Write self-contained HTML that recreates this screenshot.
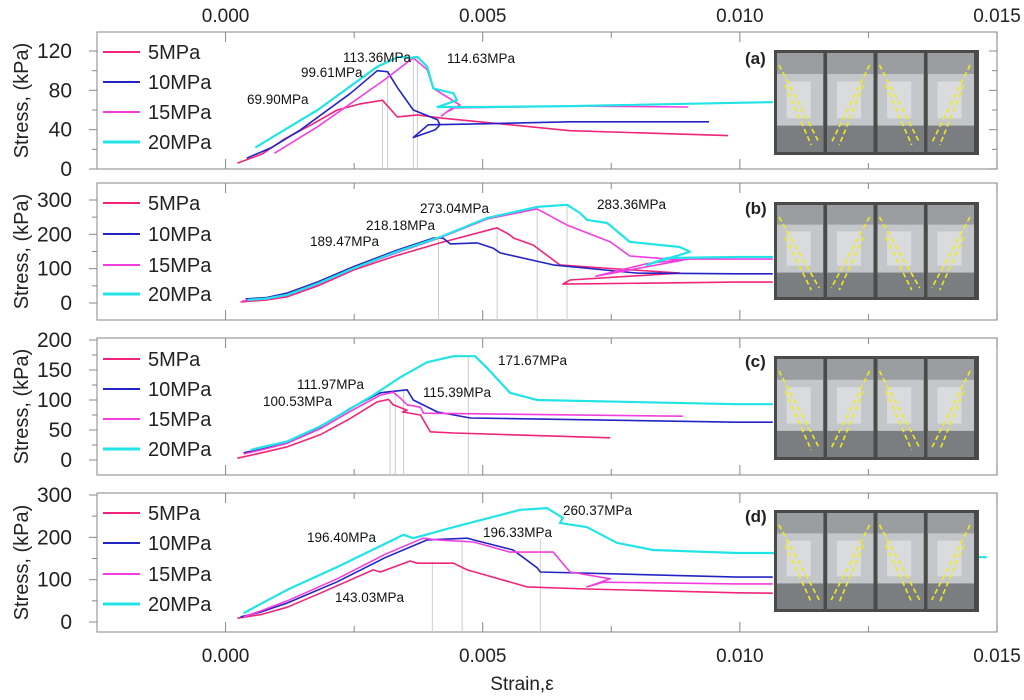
<!DOCTYPE html>
<html><head><meta charset="utf-8"><style>
body{margin:0;background:#fff;}
svg{display:block;font-family:"Liberation Sans",sans-serif;}
</style></head><body>
<svg id="chart" width="1024" height="700" viewBox="0 0 1024 700" xmlns="http://www.w3.org/2000/svg"></svg>
<script>
// strain values in units of 0.001
const xTicks=[0,0.005,0.010,0.015];
const xTickLabels=["0.000","0.005","0.010","0.015"];
const seriesNames=["5MPa","10MPa","15MPa","20MPa"];
const panelLetters=["a","b","c","d"];
const yTicksA=[0,40,80,120], yTicksB=[0,100,200,300], yTicksC=[0,50,100,150,200], yTicksD=[0,100,200,300];
const a5=[[0.23,6],[0.7,15],[1.13,30],[1.7,46],[2.17,60],[2.6,66],[3.05,70],[3.34,53],[3.73,55],[4.17,52],[6.7,39],[9.77,34]];
const a10=[[0.41,11],[0.9,22],[1.46,40],[2.43,77],[2.95,100],[3.15,99],[3.34,83],[3.65,60],[4.12,50],[4.17,45],[4.08,40],[3.65,32],[3.94,45],[5.0,46],[6.7,48],[9.4,48]];
const a15=[[0.95,16],[1.79,43],[3.07,90],[3.65,113],[3.92,101],[4.04,82],[4.56,65],[4.3,58],[4.2,54],[4.4,62],[6.7,64],[9.0,63]];
const a20=[[0.58,22],[1.79,60],[2.95,104],[3.36,114],[3.59,113],[3.73,114],[3.92,104],[4.04,82],[4.43,77],[4.5,70],[4.12,63],[5.0,63],[6.7,64],[10.64,68]];
const b5=[[0.29,3],[0.8,9],[1.2,18],[1.8,50],[2.49,96],[3.3,137],[4.17,175],[5.28,219],[5.53,198],[5.6,189],[5.98,169],[6.5,111],[7.34,102],[8.83,87],[6.7,67],[6.56,55],[9.94,61],[10.64,61]];
const b10=[[0.39,12],[0.8,16],[1.2,29],[1.8,62],[2.49,106],[3.3,152],[4.04,189],[4.23,189],[4.37,172],[4.89,175],[5.2,160],[5.34,146],[6.37,111],[8.0,87],[9.94,85],[10.64,85]];
const b15=[[0.33,6],[0.8,12],[1.2,22],[1.8,55],[2.49,100],[3.3,145],[4.17,190],[5.09,245],[6.06,274],[6.64,227],[7.48,178],[7.86,137],[8.9,125],[7.2,78],[8.2,115],[9.0,128],[10.64,128]];
const b20=[[0.43,9],[0.8,13],[1.2,24],[1.8,57],[2.49,101],[3.3,148],[4.17,192],[5.09,248],[6.06,280],[6.64,286],[6.89,262],[7.03,242],[7.42,233],[7.86,178],[8.83,163],[9.03,149],[8.19,111],[8.58,131],[9.94,134],[10.64,134]];
const c5=[[0.23,3],[0.7,12],[1.2,22],[1.84,42],[2.4,68],[2.95,97],[3.17,101],[3.26,92],[3.53,83],[3.44,80],[3.79,75],[3.98,47],[4.43,45],[7.48,37]];
const c10=[[0.35,12],[0.8,20],[1.2,30],[1.84,55],[2.4,85],[3.01,112],[3.53,117],[3.65,100],[4.12,80],[4.76,70],[9.94,63],[10.64,63]];
const c15=[[0.35,10],[0.8,19],[1.2,28],[1.84,52],[2.4,80],[3.01,108],[3.26,113],[3.4,103],[3.53,92],[3.79,88],[3.85,78],[8.89,73]];
const c20=[[0.49,17],[1.2,31],[1.84,56],[2.4,84],[2.87,108],[3.4,138],[3.92,163],[4.43,173],[4.85,173],[5.09,153],[5.53,112],[6.06,100],[9.94,93],[10.64,93]];
const d5=[[0.23,9],[0.7,18],[1.2,35],[1.84,68],[2.87,123],[3.01,118],[3.59,144],[3.73,139],[4.43,139],[4.7,123],[5.4,99],[5.86,83],[7.03,78],[9.94,69],[10.64,68]];
const d10=[[0.29,12],[0.7,24],[1.2,45],[2.17,95],[3.1,152],[3.92,194],[4.7,198],[4.82,194],[5.59,170],[6.06,128],[6.12,118],[9.94,106],[10.64,106]];
const d15=[[0.35,12],[0.7,27],[1.2,50],[2.17,102],[3.1,160],[3.84,198],[4.12,194],[4.82,189],[5.53,165],[6.37,165],[6.7,118],[7.48,102],[7.03,83],[7.34,94],[9.94,90],[10.64,90]];
const d20=[[0.35,21],[1.2,76],[2.17,130],[3.46,206],[3.65,198],[4.43,224],[5.73,265],[6.25,269],[6.37,260],[6.56,246],[6.5,234],[7.03,224],[7.61,187],[8.31,170],[9.94,163],[10.64,163],[14.8,153]];
const peaksA=[[3.05,70],[3.15,99],[3.65,113],[3.73,114]];
const peaksB=[[4.14,189],[5.28,218],[6.06,273],[6.64,283]];
const peaksC=[[3.2,100],[3.3,112],[3.46,115],[4.72,172]];
const peaksD=[[4.02,143],[4.6,196],[6.12,196]];
const labelsA=["113.36MPa","99.61MPa","69.90MPa","114.63MPa"];
const labelsB=["273.04MPa","218.18MPa","189.47MPa","283.36MPa"];
const labelsC=["171.67MPa","111.97MPa","100.53MPa","115.39MPa"];
const labelsD=["260.37MPa","196.40MPa","196.33MPa","143.03MPa"];

const colors=["#f0257a","#2424c4","#f23ee0","#22e4e6"];
const widths=[1.6,1.6,1.6,2.2];
const svg=document.getElementById('chart');
const NS="http://www.w3.org/2000/svg";
function el(t,a,p){const e=document.createElementNS(NS,t);for(const k in a)e.setAttribute(k,a[k]);(p||svg).appendChild(e);return e;}
const X0=97,X1=997,XMIN=-2.5,XMAX=15;
function sx(v){return X0+(v-XMIN)/(XMAX-XMIN)*(X1-X0);}
const panels=[
 {top:32,bot:169,y0:169,y1:51,v1:120,ticks:yTicksA,minor:20,series:[a5,a10,a15,a20],peaks:peaksA,labels:labelsA,
  lab:[[343,57],[301,72],[247,99],[447,58]],leg:[52,82,112,142],photo:[774,50,979,155],lp:[745,64]},
 {top:183,bot:320,y0:303,y1:200,v1:300,ticks:yTicksB,minor:50,series:[b5,b10,b15,b20],peaks:peaksB,labels:labelsB,
  lab:[[420,208],[366,225],[310,241],[597,204]],leg:[203,234,265,294],photo:[774,202,979,300],lp:[745,214]},
 {top:338,bot:475,y0:460,y1:340,v1:200,ticks:yTicksC,minor:25,series:[c5,c10,c15,c20],peaks:peaksC,labels:labelsC,
  lab:[[498,360],[297,384],[263,401],[423,392]],leg:[359,389,419,449],photo:[774,356,979,460],lp:[745,367]},
 {top:493,bot:632,y0:622,y1:495,v1:300,ticks:yTicksD,minor:50,series:[d5,d10,d15,d20],peaks:peaksD,labels:labelsD,
  lab:[[563,510],[307,537],[483,532],[335,597]],leg:[513,543,574,604],photo:[774,510,979,612],lp:[745,522]}
];
panels.forEach((P,pi)=>{
  const sy=v=>P.y0-(v/P.v1)*(P.y0-P.y1);
  const g=el('g',{});
  
  
  const fr=el('rect',{x:X0,y:P.top,width:X1-X0,height:P.bot-P.top,fill:'none',stroke:'#999','stroke-width':1.2},g);
  
  
  const vmax=(P.y0-P.top)/(P.y0-P.y1)*P.v1;
  for(let v=0;v<=vmax;v+=P.minor){
    const y=sy(v);const major=P.ticks.includes(v);
    el('line',{x1:X0-(major?8:5),x2:X0,y1:y,y2:y,stroke:'#888','stroke-width':1},g);
    if(pi===0){el('line',{x1:X1-(major?8:5),x2:X1,y1:y,y2:y,stroke:'#888','stroke-width':1},g);}
  }
  P.ticks.forEach(v=>{const t=el('text',{x:72,y:sy(v)+7,'text-anchor':'end','font-size':21,fill:'#222'},g);t.textContent=v;
    });
  const yt=el('text',{x:0,y:0,'text-anchor':'middle','font-size':20,fill:'#222',transform:`translate(28,${(P.top+P.bot)/2}) rotate(-90)`},g);
  yt.textContent='Stress, (kPa)';
  
  for(let v=0;v<=15;v+=2.5){const x=sx(v);const major=(v%5===0);
    el('line',{x1:x,x2:x,y1:P.top,y2:P.top+(major?10:6),stroke:'#888','stroke-width':1},g);
    el('line',{x1:x,x2:x,y1:P.bot,y2:P.bot-(major?10:6),stroke:'#888','stroke-width':1},g);}
  P.peaks.forEach(p=>{el('line',{x1:sx(p[0]),x2:sx(p[0]),y1:sy(p[1]),y2:P.bot,stroke:'#ccc','stroke-width':1},g);});
  P.series.forEach((s,i)=>{
    const d=s.map((p,j)=>(j?'L':'M')+sx(p[0]).toFixed(1)+','+sy(p[1]).toFixed(1)).join(' ');
    const path=el('path',{d:d,fill:'none',stroke:colors[i],'stroke-width':widths[i],'stroke-linejoin':'round'},g);
    
    
  });
  P.labels.forEach((L,i)=>{const q=P.lab[i];const t=el('text',{x:q[0],y:q[1]+5,'font-size':13.5,fill:'#111'},g);t.textContent=L;
    });
  seriesNames.forEach((n,i)=>{const y=P.leg[i];
    const lg=el('g',{},g);
    
    
    el('line',{x1:103,x2:140,y1:y,y2:y,stroke:colors[i],'stroke-width':i===3?3:2},lg);
    const t=el('text',{x:148,y:y+7,'font-size':20,fill:'#222'},lg);t.textContent=n;});
  const [px0,py0,px1,py1]=P.photo;
  const ph=el('g',{},g);
  
  
  el('rect',{x:px0,y:py0,width:px1-px0,height:py1-py0,fill:'#4a4a48'},ph);
  const cw=(px1-px0-12)/4;
  for(let k=0;k<4;k++){const cx=px0+3+k*(cw+2);
    el('rect',{x:cx,y:py0+3,width:cw-2,height:py1-py0-6,fill:'#c4c7ca'},ph);
    el('rect',{x:cx,y:py0+3,width:cw-2,height:(py1-py0)*0.2,fill:'#9a9ea0'},ph);
    el('rect',{x:cx,y:py1-(py1-py0)*0.28,width:cw-2,height:(py1-py0)*0.28-3,fill:'#7a7e80'},ph);
    el('rect',{x:cx+cw*0.2,y:py0+(py1-py0)*0.3,width:cw*0.5,height:(py1-py0)*0.35,fill:'#e2e4e5',opacity:0.7},ph);
    const flip=(k%2===0);
    el('line',{x1:cx+(flip?2:cw-6),y1:py0+15,x2:cx+(flip?cw-6:4),y2:py1-12,stroke:'#f2ea20','stroke-width':1.6,'stroke-dasharray':'5,3'},ph);
    el('line',{x1:cx+(flip?8:cw-12),y1:py0+35,x2:cx+(flip?cw-14:12),y2:py1-10,stroke:'#f2ea20','stroke-width':1.6,'stroke-dasharray':'5,3'},ph);
  }
  const lt=el('text',{x:P.lp[0],y:P.lp[1],'font-size':17,'font-weight':'bold',fill:'#222'},g);
  lt.textContent='('+panelLetters[pi]+')';
  
});
xTicks.forEach((v,i)=>{const x=sx(v*1000);
  const t=el('text',{x:x,y:22,'text-anchor':'middle','font-size':19,fill:'#222'});t.textContent=xTickLabels[i];
  
  const b=el('text',{x:x,y:662,'text-anchor':'middle','font-size':19,fill:'#222'});b.textContent=xTickLabels[i];
  });
const xt=el('text',{x:522,y:690,'text-anchor':'middle','font-size':19,fill:'#222'});
xt.textContent='Strain,ε';

</script>
</body></html>
